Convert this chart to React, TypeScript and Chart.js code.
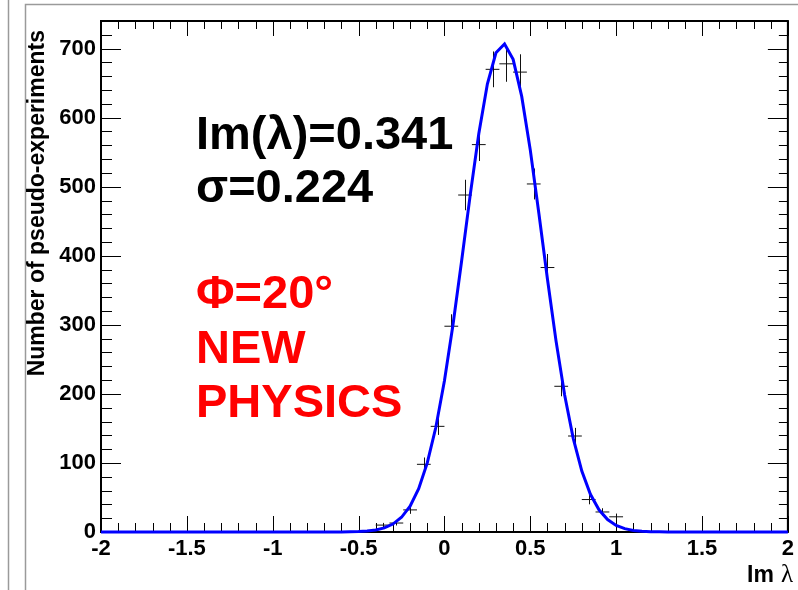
import React, { useEffect, useRef } from "react";
import { Chart, registerables } from "chart.js";

Chart.register(...registerables);

// Histogram of pseudo-experiments (bin width 0.08)
const binCenters = [-0.36, -0.28, -0.2, -0.12, -0.04, 0.04, 0.12, 0.2, 0.28, 0.36, 0.44, 0.52, 0.6, 0.68, 0.76, 0.84, 0.92, 1.0];
const binCounts = [10, 13, 32, 98, 153, 298, 488, 561, 670, 678, 666, 504, 383, 211, 139, 47, 29, 22];
const binErrors = [3.2, 3.6, 5.7, 9.9, 12.4, 17.3, 22.1, 23.7, 25.9, 26.0, 25.8, 22.4, 19.6, 14.5, 11.8, 6.9, 5.4, 4.7];
const binWidth = 0.08;

// Fitted curve
const fitX = [-2, -0.65, -0.6, -0.55, -0.5, -0.45, -0.4, -0.35, -0.3, -0.25, -0.2, -0.15, -0.1, -0.05, 0, 0.05, 0.1, 0.15, 0.2, 0.25, 0.3, 0.35, 0.4, 0.45, 0.5, 0.55, 0.6, 0.65, 0.7, 0.75, 0.8, 0.85, 0.9, 0.95, 1.0, 1.05, 1.1, 1.15, 1.2, 1.25, 1.3, 2];
const fitY = [0, 0.04, 0.1, 0.25, 0.6, 1.3, 2.9, 5.9, 11.5, 21.3, 37.5, 62.7, 100, 151.7, 219, 300.5, 392.5, 487.8, 576.6, 648.6, 694, 706.7, 684.5, 630.8, 553, 461.3, 366, 276.4, 198.5, 135.7, 88.2, 54.6, 32.1, 18, 9.6, 4.9, 2.3, 1.1, 0.5, 0.2, 0.1, 0];

const xMin = -2;
const xMax = 2;
const yMin = 0;
const yMax = 740;

const yTitle = "Number of pseudo-experiments";
const xTitleText = "Im";
const xTitleSymbol = "λ";
const statLines = ["Im(λ)=0.341", "σ=0.224"];
const noteLines = ["Φ=20°", "NEW", "PHYSICS"];

const SANS = "'Liberation Sans', Arial, Helvetica, sans-serif";
const SERIF = "'Liberation Serif', 'DejaVu Serif', serif";

const rootPlugin = {
  id: "rootStyle",
  beforeDatasetsDraw(chart: any) {
    const { ctx, chartArea: a, scales } = chart;
    const xs = scales.x;
    const ys = scales.y;
    ctx.save();
    // pad borders
    ctx.strokeStyle = "#9a9a9a";
    ctx.lineWidth = 1.5;
    ctx.beginPath();
    ctx.moveTo(8.5, 0);
    ctx.lineTo(8.5, 590);
    ctx.moveTo(25.5, 590);
    ctx.lineTo(25.5, 4.5);
    ctx.lineTo(798, 4.5);
    ctx.stroke();

    // ticks
    ctx.strokeStyle = "#000";
    ctx.lineWidth = 1;
    ctx.beginPath();
    for (let i = 0; i <= 40; i++) {
      const v = xMin + i * 0.1;
      const px = Math.round(xs.getPixelForValue(v)) + 0.5;
      const major = i % 5 === 0;
      ctx.moveTo(px, a.bottom);
      ctx.lineTo(px, a.bottom - (major ? 16 : 9));
      ctx.moveTo(px, a.top);
      ctx.lineTo(px, a.top + (major ? 15 : 8));
    }
    for (let v = yMin; v <= yMax; v += 20) {
      const py = Math.round(ys.getPixelForValue(v)) + 0.5;
      const major = v % 100 === 0;
      ctx.moveTo(a.left, py);
      ctx.lineTo(a.left + (major ? 20 : 11), py);
      ctx.moveTo(a.right, py);
      ctx.lineTo(a.right - (major ? 20 : 9), py);
    }
    ctx.stroke();

    // frame
    ctx.lineWidth = 2;
    ctx.strokeRect(a.left, a.top, a.right - a.left, a.bottom - a.top);

    // vertical error bars of the histogram
    ctx.strokeStyle = "#111";
    ctx.lineWidth = 1;
    ctx.beginPath();
    binCenters.forEach((c, i) => {
      const px = Math.round(xs.getPixelForValue(c)) + 0.5;
      ctx.moveTo(px, ys.getPixelForValue(binCounts[i] - binErrors[i]));
      ctx.lineTo(px, ys.getPixelForValue(binCounts[i] + binErrors[i]));
    });
    ctx.stroke();
    ctx.restore();
  },
  afterDraw(chart: any) {
    const { ctx } = chart;
    ctx.save();
    // y title
    ctx.save();
    ctx.translate(44, 30);
    ctx.rotate(-Math.PI / 2);
    ctx.font = `bold 23px ${SANS}`;
    ctx.fillStyle = "#000";
    ctx.textAlign = "right";
    ctx.textBaseline = "alphabetic";
    ctx.fillText(yTitle, 0, 0);
    ctx.restore();

    // x title
    ctx.fillStyle = "#000";
    ctx.textBaseline = "alphabetic";
    ctx.textAlign = "right";
    ctx.font = `25px ${SERIF}`;
    const symW = ctx.measureText(xTitleSymbol).width;
    ctx.fillText(xTitleSymbol, 793, 582);
    ctx.font = `bold 23px ${SANS}`;
    ctx.fillText(xTitleText, 793 - symW - 7, 582);

    // annotations
    ctx.textAlign = "left";
    ctx.font = `bold 47px ${SANS}`;
    ctx.fillStyle = "#000";
    const statBase = [149, 202];
    statLines.forEach((t, i) => ctx.fillText(t, 196, statBase[i]));
    ctx.fillStyle = "#ff0000";
    const noteBase = [308, 363, 417];
    noteLines.forEach((t, i) => ctx.fillText(t, 196, noteBase[i]));
    ctx.restore();
  },
};

export default function App() {
  const ref = useRef<HTMLCanvasElement | null>(null);
  useEffect(() => {
    if (!ref.current) return;
    const chart = new Chart(ref.current, {
      type: "scatter",
      data: {
        datasets: [
          {
            type: "line",
            label: "fit",
            data: fitX.map((x, i) => ({ x, y: fitY[i] })),
            borderColor: "#0000ff",
            borderWidth: 3,
            pointRadius: 0,
            tension: 0,
            fill: false,
            clip: false,
          } as any,
          {
            label: "pseudo-experiments",
            data: binCenters.map((x, i) => ({ x, y: binCounts[i] })),
            pointStyle: "line",
            pointRadius: (binWidth / 2) * 172.25,
            borderColor: "#111",
            borderWidth: 1,
            backgroundColor: "#111",
            showLine: false,
            clip: false,
          } as any,
        ],
      },
      options: {
        animation: false,
        responsive: false,
        maintainAspectRatio: false,
        events: [],
        layout: { padding: { top: 21, right: 8, left: 0, bottom: 0 } },
        plugins: { legend: { display: false }, tooltip: { enabled: false }, title: { display: false } },
        scales: {
          x: {
            type: "linear",
            min: xMin,
            max: xMax,
            grid: { display: false, drawTicks: false },
            border: { display: false },
            ticks: {
              stepSize: 0.5,
              autoSkip: false,
              maxRotation: 0,
              includeBounds: false,
              padding: 4,
              color: "#000",
              font: { family: SANS, size: 22, weight: "bold" },
              callback: (v: any) => String(Math.round(Number(v) * 10) / 10),
            },
            afterFit: (s: any) => {
              s.height = 58;
            },
          },
          y: {
            type: "linear",
            min: yMin,
            max: yMax,
            grid: { display: false, drawTicks: false },
            border: { display: false },
            ticks: {
              stepSize: 100,
              autoSkip: false,
              includeBounds: false,
              padding: 5,
              color: "#000",
              font: { family: SANS, size: 22, weight: "bold" },
            },
            afterFit: (s: any) => {
              s.width = 101;
            },
          },
        },
      },
      plugins: [rootPlugin],
    });
    return () => chart.destroy();
  }, []);
  return (
    <div style={{ position: "absolute", left: 0, top: 0, width: 798, height: 590, background: "#fff" }}>
      <canvas ref={ref} width={798} height={590} style={{ width: 798, height: 590, display: "block" }} />
    </div>
  );
}
